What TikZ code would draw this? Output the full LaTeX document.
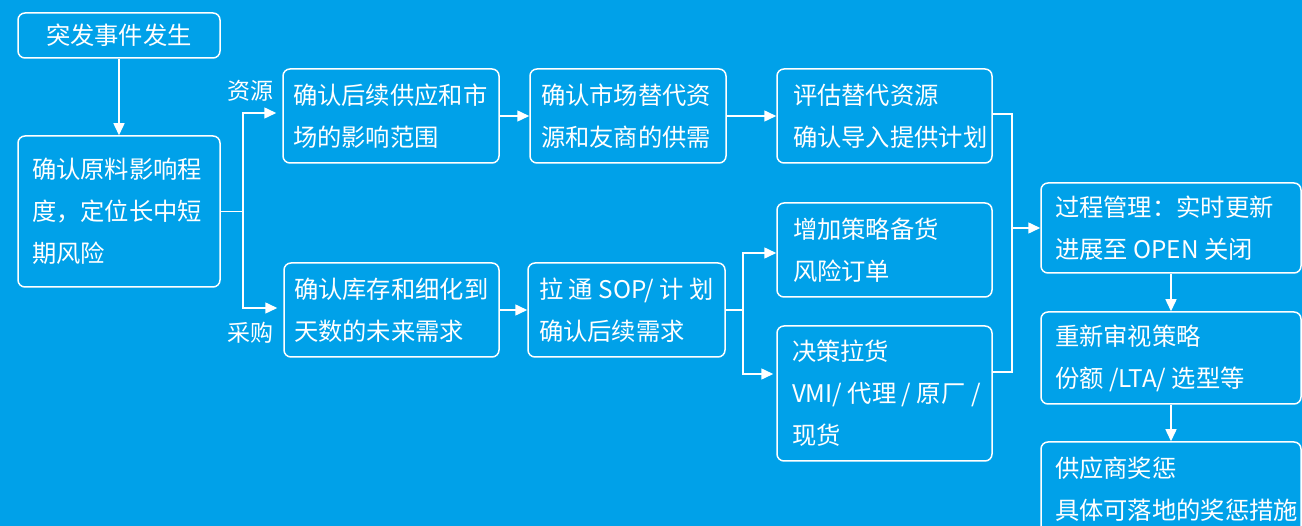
\documentclass[tikz,border=0pt]{standalone}
\usepackage{fontspec}
\newfontfamily\cjk{Noto Sans CJK SC}
\usetikzlibrary{arrows.meta}
\definecolor{bg}{RGB}{0,161,233}
\newcommand{\tline}[1]{\mbox{#1}}
\begin{document}
\begin{tikzpicture}[x=1pt,y=-1pt,
  card/.style={draw=white, line width=1.5pt, rounded corners=7pt, text=white,
    align=left, inner ysep=0pt, font=\cjk\fontsize{24.3}{42}\selectfont,
    execute at begin node={\spaceskip=5.5pt\relax}},
  lbl/.style={text=white, inner sep=0pt, font=\cjk\fontsize{23}{26}\selectfont},
  wire/.style={draw=white, line width=1.5pt},
  arr/.style={wire, -{Triangle[length=12pt,width=11pt]}}]
\useasboundingbox (0,0) rectangle (1302,526);
\fill[bg] (0,0) rectangle (1302,526);
\clip (0,0) rectangle (1302,526);
% boxes
\node[card, align=center, minimum width=202pt, minimum height=45pt] (b1) at (119,35.5) {突发事件发生};
\node[card, minimum width=202pt, minimum height=151pt, inner xsep=14pt, text width=174pt] (b2) at (119,211.5) {\tline{确认原料影响程}\\\tline{度，定位长中短}\\\tline{期风险}};
\node[card, minimum width=216pt, minimum height=94pt, inner xsep=10pt, text width=196pt] (b3) at (391,116) {\tline{确认后续供应和市}\\\tline{场的影响范围}};
\node[card, minimum width=196pt, minimum height=94pt, inner xsep=11pt, text width=174pt] (b4) at (628,116) {\tline{确认市场替代资}\\\tline{源和友商的供需}};
\node[card, minimum width=215pt, minimum height=94pt, inner xsep=16pt, text width=183pt] (b5) at (884.5,116) {\tline{评估替代资源}\\\tline{确认导入提供计划}};
\node[card, minimum width=215pt, minimum height=94pt, inner xsep=16pt, text width=183pt] (b6) at (884.5,250) {\tline{增加策略备货}\\\tline{风险订单}};
\node[card, minimum width=215pt, minimum height=135pt, inner xsep=15pt, text width=185pt] (b7) at (884.5,393.5) {\tline{决策拉货}\\\tline{VMI/ 代理 / 原厂 /}\\\tline{现货}};
\node[card, minimum width=215pt, minimum height=94pt, inner xsep=10pt, text width=195pt] (b8) at (391.5,310) {\tline{确认库存和细化到}\\\tline{天数的未来需求}};
\node[card, minimum width=197pt, minimum height=94pt, inner xsep=11pt, text width=175pt] (b9) at (626.5,310) {\tline{拉 通 SOP/ 计 划}\\\tline{确认后续需求}};
\node[card, minimum width=260pt, minimum height=90pt, inner xsep=14pt, text width=232pt] (b10) at (1171,228) {\tline{过程管理：实时更新}\\\tline{进展至 OPEN 关闭}};
\node[card, minimum width=260pt, minimum height=92pt, inner xsep=14pt, text width=232pt] (b11) at (1171,358) {\tline{重新审视策略}\\\tline{份额 /LTA/ 选型等}};
\node[card, minimum width=260pt, minimum height=94pt, inner xsep=14pt, text width=232pt] (b12) at (1171,489) {\tline{供应商奖惩}\\\tline{具体可落地的奖惩措施}};
% labels
\node[lbl] (l1) at (250,91) {资源};
\node[lbl] (l2) at (250,333) {采购};
% connectors
\draw[arr] (b1) -- (b2);
\coordinate (j1) at (243,211.5);
\draw[wire] (b2.east) -- (j1);
\draw[arr, shorten >=6pt] (j1) |- ([yshift=3pt]b3.west);
\draw[arr, shorten >=6pt] (j1) |- ([yshift=2pt]b8.west);
\draw[arr] (b3) -- (b4);
\draw[arr] (b4) -- (b5);
\draw[arr] (b8) -- (b9);
\coordinate (j2) at (743,310);
\draw[wire] (b9.east) -- (j2);
\draw[arr] (j2) |- ([yshift=-3pt]b6.west);
\draw[arr, shorten >=3pt] (j2) |- ([yshift=19.5pt]b7.west);
\coordinate (j3t) at (1012,114);
\coordinate (j3b) at (1012,372);
\coordinate (j3m) at (1012,228);
\draw[wire] (b5.east |- j3t) -- (j3t) -- (j3b) -- (b7.east |- j3b);
\draw[arr] (j3m) -- (b10.west);
\draw[arr] (b10) -- (b11);
\draw[arr] (b11) -- (b12);
\end{tikzpicture}
\end{document}
